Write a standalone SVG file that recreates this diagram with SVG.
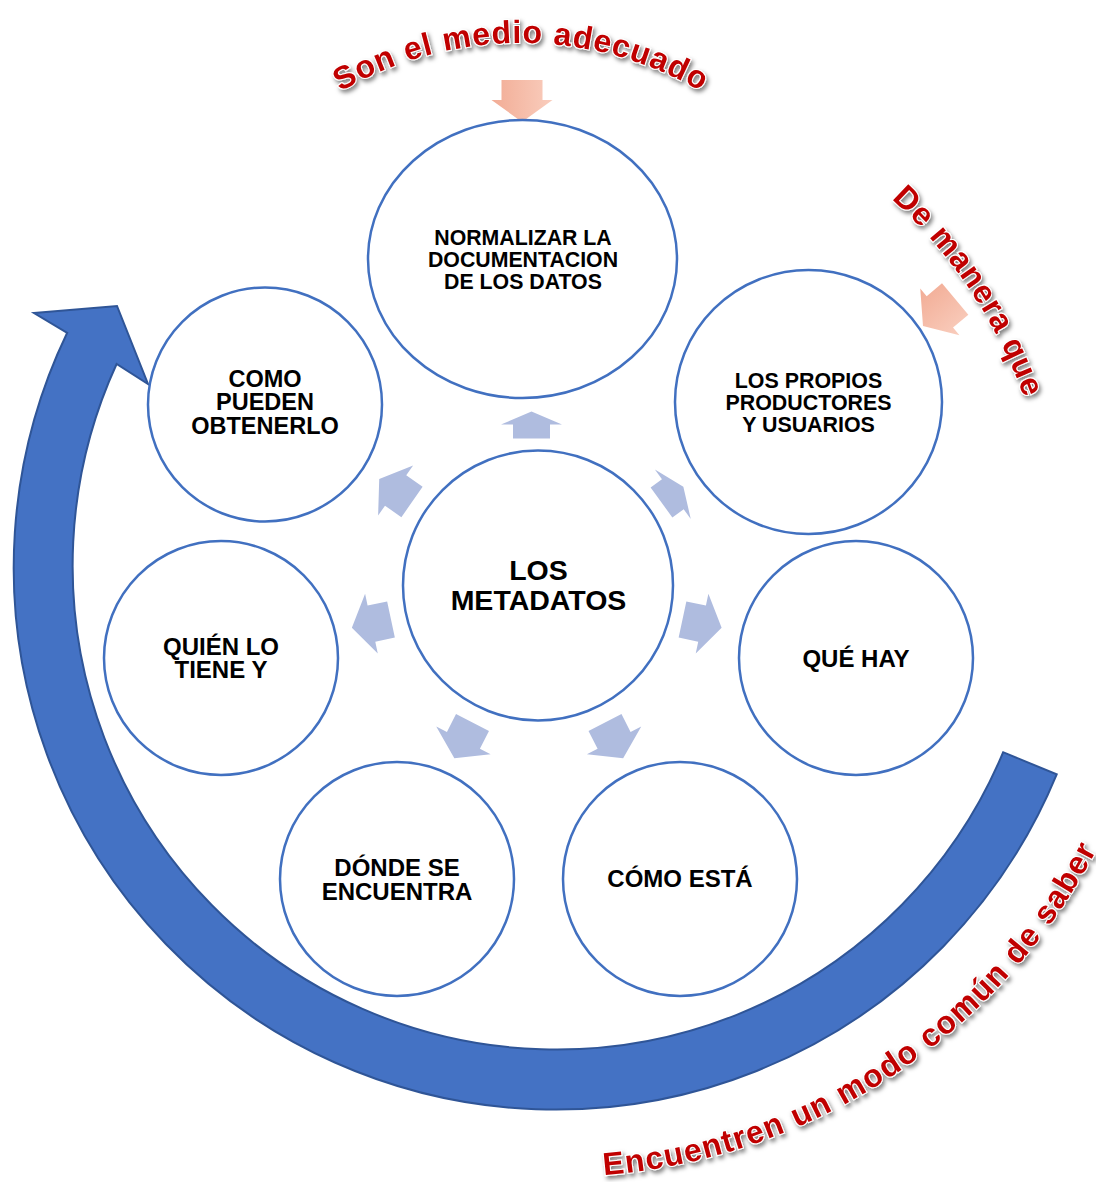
<svg xmlns="http://www.w3.org/2000/svg" width="1096" height="1182" viewBox="0 0 1096 1182">
<style>
.node circle, .node ellipse { fill:#FFFFFF; stroke:#4170C0; stroke-width:2.5; }
.lbl { font-family:"Liberation Sans", Arial, sans-serif; font-weight:bold; fill:#000000; text-anchor:middle; }
.sa { fill:#AFBCDF; }
.oa { fill:url(#og); }
.wa { font-family:"Liberation Sans", Arial, sans-serif; font-weight:bold; font-size:32px; fill:#C00000; stroke:#FFFFFF; stroke-width:2; paint-order:stroke; filter:url(#sh); }
</style>
<defs>
<linearGradient id="og" x1="0" y1="0" x2="1" y2="0">
<stop offset="0" stop-color="#F2AC95"/>
<stop offset="1" stop-color="#F9CDBD"/>
</linearGradient>
<filter id="sh" x="-20%" y="-40%" width="140%" height="180%">
<feDropShadow dx="2" dy="3" stdDeviation="2.2" flood-color="#000000" flood-opacity="0.5"/>
</filter>
<polygon id="arrS" points="0,-18.5 14,-18.5 14,-30.5 27,0 14,30.5 14,18.5 0,18.5"/>
<polygon id="arrL" points="0,-18.5 20,-18.5 20,-30.5 40,0 20,30.5 20,18.5 0,18.5"/>
<polygon id="arrO" points="-20.5,-42 20.5,-42 20.5,-22 30.5,-22 0,0 -30.5,-22 -20.5,-22"/>
<path id="p-top" d="M 161 403 A 360 360 0 0 1 881 403"/>
<path id="p-right" d="M 774.3 119.4 A 498 498 0 0 1 1052.8 532.3"/>
<path id="p-bottom" d="M 434.4 1164.7 A 610 610 0 0 0 1153.7 688.6"/>
</defs>

<g id="cycle-arrow">
<path d="M 1056.7 774.4 A 542 542 0 1 1 67.2 332.8 L 34 313 L 117 306 L 148 384 L 116.6 364 A 484 484 0 1 0 1003.2 752.2 Z" fill="#4472C4" stroke="#2F5597" stroke-width="2" stroke-linejoin="miter"/>
</g>

<g id="connectors">
<use href="#arrS" class="sa" transform="translate(531.5,438.5) rotate(-90)"/>
<use href="#arrS" class="sa" transform="translate(661.5,502.5) rotate(-36)"/>
<use href="#arrL" class="sa" transform="translate(682.5,619.5) rotate(12)"/>
<use href="#arrL" class="sa" transform="translate(605,722.5) rotate(63)"/>
<use href="#arrL" class="sa" transform="translate(472.5,722.5) rotate(117)"/>
<use href="#arrL" class="sa" transform="translate(391,619.5) rotate(168)"/>
<use href="#arrL" class="sa" transform="translate(412,502) rotate(215)"/>
<use href="#arrO" class="oa" transform="translate(522,122)"/>
<use href="#arrO" class="oa" transform="translate(923,326) rotate(50)"/>
</g>

<g id="node-normalizar" class="node">
<ellipse cx="522.5" cy="259" rx="154.5" ry="139"/>
<text class="lbl" font-size="21.3" x="523" y="245">NORMALIZAR LA</text>
<text class="lbl" font-size="21.3" x="523" y="267">DOCUMENTACION</text>
<text class="lbl" font-size="21.3" x="523" y="289">DE LOS DATOS</text>
</g>
<g id="node-propios" class="node">
<ellipse cx="808.5" cy="402" rx="133.5" ry="132"/>
<text class="lbl" font-size="21.4" x="808.5" y="388">LOS PROPIOS</text>
<text class="lbl" font-size="21.4" x="808.5" y="410">PRODUCTORES</text>
<text class="lbl" font-size="21.4" x="808.5" y="432">Y USUARIOS</text>
</g>
<g id="node-como-pueden" class="node">
<circle cx="265" cy="404.5" r="117"/>
<text class="lbl" font-size="23.5" x="265" y="387">COMO</text>
<text class="lbl" font-size="23.5" x="265" y="410">PUEDEN</text>
<text class="lbl" font-size="23.5" x="265" y="434">OBTENERLO</text>
</g>
<g id="node-metadatos" class="node">
<circle cx="538" cy="585.5" r="135"/>
<text class="lbl" font-size="28.5" x="538.5" y="580">LOS</text>
<text class="lbl" font-size="28.5" x="538.5" y="610">METADATOS</text>
</g>
<g id="node-que-hay" class="node">
<circle cx="856" cy="658" r="117"/>
<text class="lbl" font-size="24" x="856" y="667">QUÉ HAY</text>
</g>
<g id="node-quien" class="node">
<circle cx="221" cy="658" r="117"/>
<text class="lbl" font-size="24" x="221" y="655">QUIÉN LO</text>
<text class="lbl" font-size="24" x="221" y="678">TIENE Y</text>
</g>
<g id="node-donde" class="node">
<circle cx="397" cy="879" r="117"/>
<text class="lbl" font-size="24" x="397" y="876">DÓNDE SE</text>
<text class="lbl" font-size="24" x="397" y="900">ENCUENTRA</text>
</g>
<g id="node-como-esta" class="node">
<circle cx="680" cy="879" r="117"/>
<text class="lbl" font-size="24" x="680" y="887">CÓMO ESTÁ</text>
</g>

<g id="labels">
<text class="wa" letter-spacing="1"><textPath href="#p-top" startOffset="50%" text-anchor="middle">Son el medio adecuado</textPath></text>
<text class="wa" letter-spacing="1"><textPath href="#p-right" startOffset="50.5%" text-anchor="middle">De manera que</textPath></text>
<text class="wa" letter-spacing="1.3"><textPath href="#p-bottom" startOffset="50%" text-anchor="middle">Encuentren un modo común de saber</textPath></text>
</g>
</svg>
